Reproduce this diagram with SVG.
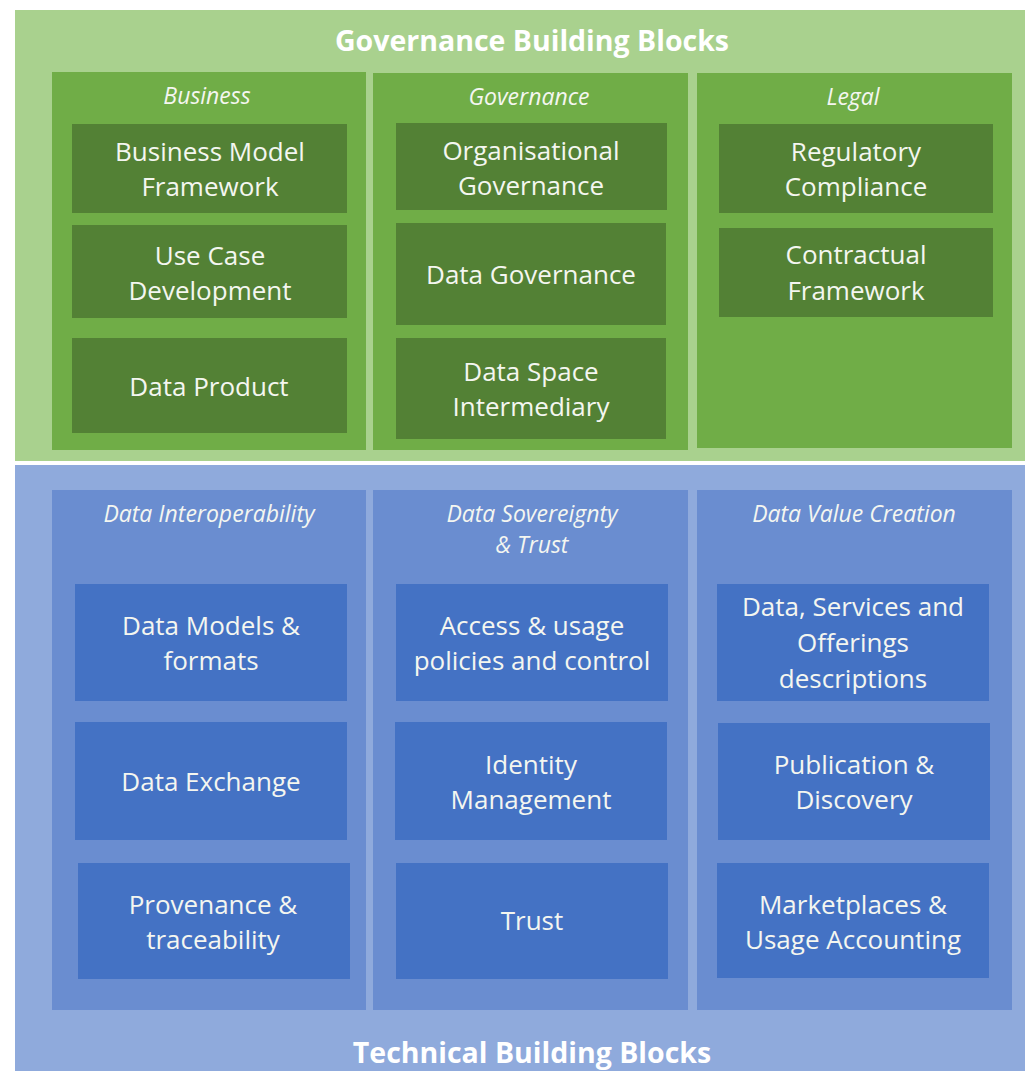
<svg xmlns="http://www.w3.org/2000/svg" width="1025" height="1071" viewBox="0 0 1025 1071">
<style>
text{font-family:"Open Sans","Liberation Sans",sans-serif;fill:#F4F6F0;text-anchor:middle}
.t{font-size:28.5px;font-weight:bold;fill:#FFFFFF}
.c{font-size:23px;font-style:italic}
.b{font-size:26px}
.gO{fill:#A9D18E}.gC{fill:#70AD47}.gB{fill:#538135}
.bO{fill:#8FAADC}.bC{fill:#6A8DD0}.bB{fill:#4472C4}
</style>
<rect width="1025" height="1071" fill="#FFFFFF"/>
<g id="governance">
<rect class="gO" x="15" y="10" width="1010" height="451"/>
<text class="t" x="532" y="51">Governance Building Blocks</text>
</g>
<g id="col-business">
<rect class="gC" x="52" y="72" width="314" height="378"/>
<text class="c" x="207" y="104">Business</text>
</g>
<g id="col-governance">
<rect class="gC" x="373" y="73" width="315" height="377"/>
<text class="c" x="529" y="105">Governance</text>
</g>
<g id="col-legal">
<rect class="gC" x="697" y="73" width="315" height="375"/>
<text class="c" x="853" y="105">Legal</text>
</g>
<g id="n-bmf"><rect class="gB" x="72" y="124" width="275" height="89"/><text class="b" x="210" y="161">Business Model</text><text class="b" x="210" y="196">Framework</text></g>
<g id="n-ucd"><rect class="gB" x="72" y="225" width="275" height="93"/><text class="b" x="210" y="265">Use Case</text><text class="b" x="210" y="300">Development</text></g>
<g id="n-dp"><rect class="gB" x="72" y="338" width="275" height="95"/><text class="b" x="209" y="396">Data Product</text></g>
<g id="n-og"><rect class="gB" x="396" y="123" width="271" height="87"/><text class="b" x="531" y="160">Organisational</text><text class="b" x="531" y="195">Governance</text></g>
<g id="n-dg"><rect class="gB" x="396" y="223" width="270" height="102"/><text class="b" x="531" y="284">Data Governance</text></g>
<g id="n-dsi"><rect class="gB" x="396" y="338" width="270" height="101"/><text class="b" x="531" y="381">Data Space</text><text class="b" x="531" y="416">Intermediary</text></g>
<g id="n-rc"><rect class="gB" x="719" y="124" width="274" height="89"/><text class="b" x="856" y="161">Regulatory</text><text class="b" x="856" y="196">Compliance</text></g>
<g id="n-cf"><rect class="gB" x="719" y="228" width="274" height="89"/><text class="b" x="856" y="264">Contractual</text><text class="b" x="856" y="300">Framework</text></g>

<g id="technical">
<rect class="bO" x="15" y="465" width="1010" height="606"/>
<text class="t" x="532" y="1063">Technical Building Blocks</text>
</g>
<g id="col-interop">
<rect class="bC" x="52" y="490" width="314" height="520"/>
<text class="c" x="209" y="522">Data Interoperability</text>
</g>
<g id="col-sovereignty">
<rect class="bC" x="373" y="490" width="315" height="520"/>
<text class="c" x="532" y="522">Data Sovereignty</text>
<text class="c" x="532" y="553">&amp; Trust</text>
</g>
<g id="col-value">
<rect class="bC" x="697" y="490" width="315" height="520"/>
<text class="c" x="854" y="522">Data Value Creation</text>
</g>
<g id="n-dmf"><rect class="bB" x="75" y="584" width="272" height="117"/><text class="b" x="211" y="635">Data Models &amp;</text><text class="b" x="211" y="670">formats</text></g>
<g id="n-de"><rect class="bB" x="75" y="722" width="272" height="118"/><text class="b" x="211" y="791">Data Exchange</text></g>
<g id="n-pt"><rect class="bB" x="78" y="863" width="272" height="116"/><text class="b" x="213" y="914">Provenance &amp;</text><text class="b" x="213" y="949">traceability</text></g>
<g id="n-aup"><rect class="bB" x="396" y="584" width="272" height="117"/><text class="b" x="532" y="635">Access &amp; usage</text><text class="b" x="532" y="670">policies and control</text></g>
<g id="n-im"><rect class="bB" x="395" y="722" width="272" height="118"/><text class="b" x="531" y="774">Identity</text><text class="b" x="531" y="809">Management</text></g>
<g id="n-trust"><rect class="bB" x="396" y="863" width="272" height="116"/><text class="b" x="532" y="930">Trust</text></g>
<g id="n-dso"><rect class="bB" x="717" y="584" width="272" height="117"/><text class="b" x="853" y="616">Data, Services and</text><text class="b" x="853" y="652">Offerings</text><text class="b" x="853" y="688">descriptions</text></g>
<g id="n-pd"><rect class="bB" x="718" y="723" width="272" height="117"/><text class="b" x="854" y="774">Publication &amp;</text><text class="b" x="854" y="809">Discovery</text></g>
<g id="n-mua"><rect class="bB" x="717" y="863" width="272" height="115"/><text class="b" x="853" y="914">Marketplaces &amp;</text><text class="b" x="853" y="949">Usage Accounting</text></g>
<g id="connectors"/>
</svg>
